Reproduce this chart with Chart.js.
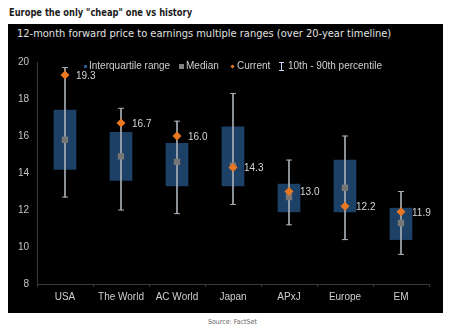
<!DOCTYPE html>
<html>
<head>
<meta charset="utf-8">
<script src="https://cdn.jsdelivr.net/npm/chart.js@4.4.1/dist/chart.umd.min.js"></script>
<style>
  body { margin: 0; background: #fff; width: 456px; height: 333px; position: relative; overflow: hidden; font-family: "Liberation Sans", Arial, sans-serif; }
  #title { position: absolute; left: 9px; top: 6px; font-weight: bold; font-size: 11px; font-family: "Liberation Sans Narrow", "DejaVu Sans Condensed", "Roboto", sans-serif; color: #1a1a1a; white-space: nowrap; transform: scaleX(0.84); transform-origin: 0 0; }
  #box { position: absolute; left: 8px; top: 24px; width: 435px; height: 289px; background: #000; }
  #sub { position: absolute; left: 9px; top: 3px; font-size: 11px; font-family: "Liberation Sans Narrow", "DejaVu Sans Condensed", "Roboto", sans-serif; color: #e0e0e0; white-space: nowrap; }
  #chart { position: absolute; left: 0; top: 0; }
  .lg { position: absolute; top: 36px; font-size: 10px; color: #cfcfcf; white-space: nowrap; line-height: 12px; }
  .sw { position: absolute; }
  #source { position: absolute; left: 208px; top: 318px; font-size: 7px; font-family: "Liberation Sans Narrow", "DejaVu Sans Condensed", sans-serif; color: #666; }
</style>
</head>
<body>
<div id="title">Europe the only "cheap" one vs history</div>
<div id="box">
  <div id="sub">12-month forward price to earnings multiple ranges (over 20-year timeline)</div>
  <canvas id="chart" width="435" height="289"></canvas>
  <div class="sw" style="left:76px;top:41px;width:3px;height:3px;background:#2a5a8a"></div>
  <div class="lg" style="left:81px">Interquartile range</div>
  <div class="sw" style="left:171px;top:40px;width:5px;height:5px;background:#808080"></div>
  <div class="lg" style="left:178px">Median</div>
  <div class="sw" style="left:223px;top:41px;width:3px;height:3px;background:#e87722;transform:rotate(45deg)"></div>
  <div class="lg" style="left:229px">Current</div>
  <div class="sw" style="left:273px;top:38px;width:1px;height:9px;background:#c8d4ff"></div>
  <div class="sw" style="left:271px;top:38px;width:5px;height:1px;background:#c8d4ff"></div>
  <div class="sw" style="left:271px;top:46px;width:5px;height:1px;background:#c8d4ff"></div>
  <div class="lg" style="left:280px">10th - 90th percentile</div>
</div>
<div id="source">Source: FactSet</div>
<script>
const categories = ["USA", "The World", "AC World", "Japan", "APxJ", "Europe", "EM"];
const p10 = [12.7, 12.0, 11.8, 12.3, 11.2, 10.4, 9.6];
const p90 = [19.7, 17.5, 16.8, 18.3, 14.7, 16.0, 13.0];
const q1 = [14.2, 13.6, 13.3, 13.3, 11.9, 11.9, 10.4];
const q3 = [17.4, 16.2, 15.6, 16.5, 13.4, 14.7, 12.1];
const median = [15.8, 14.9, 14.6, 14.4, 12.7, 13.2, 11.3];
const current = [19.3, 16.7, 16.0, 14.3, 13.0, 12.2, 11.9];
const yTicks = [8, 10, 12, 14, 16, 18, 20];

const grey = "#a9afb5";

// labels next to the orange "current" markers
const currentLabels = {
  id: "currentLabels",
  afterDatasetsDraw(chart) {
    const meta = chart.getDatasetMeta(5);
    const ctx = chart.ctx;
    ctx.save();
    ctx.font = "10px 'Liberation Sans', Arial, sans-serif";
    ctx.fillStyle = "#d6d6d6";
    ctx.textAlign = "left";
    ctx.textBaseline = "middle";
    meta.data.forEach(function (pt, i) {
      ctx.fillText(current[i].toFixed(1), pt.x + 11, pt.y + 1);
    });
    ctx.restore();
  }
};

const ctx = document.getElementById("chart").getContext("2d");
const myChart = new Chart(ctx, {
  type: "bar",
  data: {
    labels: categories,
    datasets: [
      {
        label: "Interquartile range",
        data: categories.map((c, i) => [q1[i], q3[i]]),
        backgroundColor: "#1c4066",
        barThickness: 22,
        grouped: false,
        order: 6
      },
      {
        label: "10th - 90th percentile",
        data: categories.map((c, i) => [p10[i], p90[i]]),
        backgroundColor: grey,
        barThickness: 1,
        grouped: false,
        order: 5
      },
      {
        type: "line",
        label: "p10",
        data: p10,
        showLine: false,
        pointStyle: "line",
        pointRadius: 3,
        pointBorderColor: grey,
        pointBorderWidth: 1,
        order: 4
      },
      {
        type: "line",
        label: "p90",
        data: p90,
        showLine: false,
        pointStyle: "line",
        pointRadius: 3,
        pointBorderColor: grey,
        pointBorderWidth: 1,
        order: 3
      },
      {
        type: "line",
        label: "Median",
        data: median,
        showLine: false,
        pointStyle: "rect",
        pointRadius: 4.5,
        pointBackgroundColor: "#767676",
        pointBorderWidth: 0,
        order: 2
      },
      {
        type: "line",
        label: "Current",
        data: current,
        showLine: false,
        pointStyle: "rectRot",
        pointRadius: 4.5,
        pointBackgroundColor: "#e87722",
        pointBorderWidth: 0,
        order: 1
      }
    ]
  },
  options: {
    responsive: false,
    animation: false,
    layout: { padding: { top: 38, right: 14, left: 0, bottom: 0 } },
    plugins: { legend: { display: false }, tooltip: { enabled: false } },
    scales: {
      x: {
        grid: { drawOnChartArea: false, drawTicks: true, tickLength: 3, color: "#3a3a3a" },
        border: { color: "#3a3a3a" },
        ticks: { color: "#cfcfcf", font: { size: 10, family: "'Liberation Sans', Arial, sans-serif" }, padding: 4 },
        afterFit: function (scale) { scale.height = 29; }
      },
      y: {
        min: 8,
        max: 20,
        afterBuildTicks: function (scale) { scale.ticks = yTicks.map(v => ({ value: v })); },
        grid: { drawOnChartArea: false, drawTicks: false, color: "#3a3a3a" },
        border: { color: "#3a3a3a" },
        ticks: { color: "#c4c4c4", font: { size: 10, family: "'Liberation Sans', Arial, sans-serif" }, padding: 8 },
        afterFit: function (scale) { scale.width = 29; }
      }
    }
  },
  plugins: [currentLabels]
});
</script>
</body>
</html>
